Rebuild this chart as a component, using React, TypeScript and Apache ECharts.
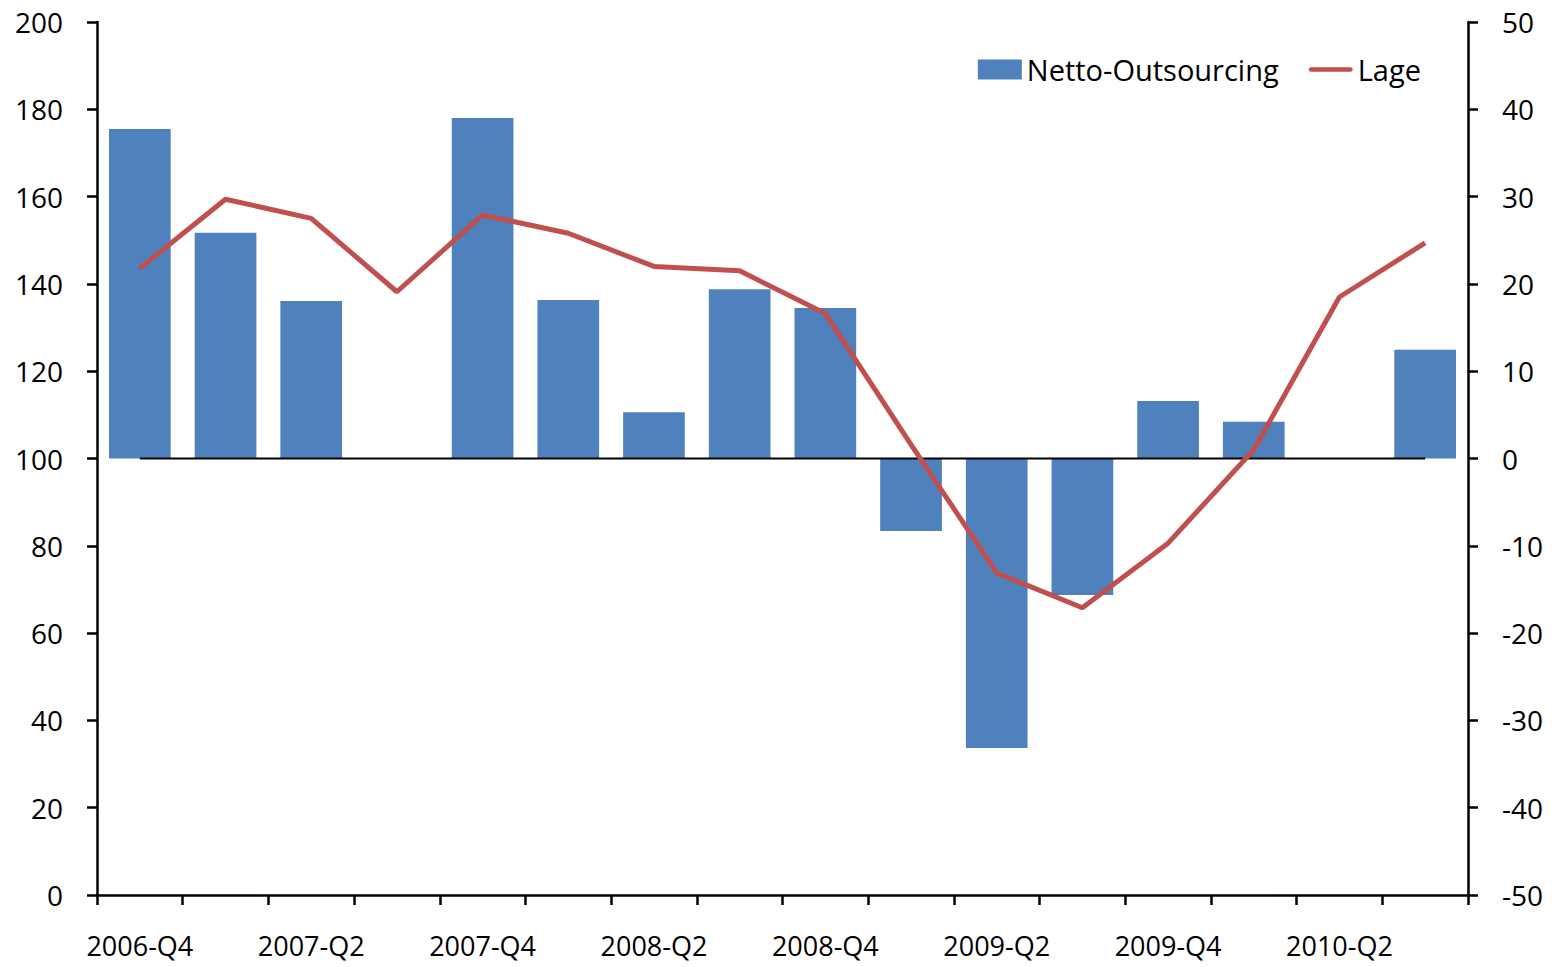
import React, { useEffect, useRef } from "react";
import * as echarts from "echarts";

const categories = [
  "2006-Q4", "2007-Q1", "2007-Q2", "2007-Q3", "2007-Q4", "2008-Q1", "2008-Q2", "2008-Q3",
  "2008-Q4", "2009-Q1", "2009-Q2", "2009-Q3", "2009-Q4", "2010-Q1", "2010-Q2", "2010-Q3",
];
const nettoOutsourcing: (number | null)[] = [
  175.5, 151.7, 136.1, null, 178.0, 136.3, 110.6, 138.8,
  134.5, 83.4, 33.7, 68.7, 113.2, 108.4, null, 124.9,
];
const lage = [21.8, 29.7, 27.5, 19.1, 27.9, 25.8, 22.0, 21.5, 16.6, 1.6, -13.1, -17.1, -9.7, 1.0, 18.5, 24.7];
const baseLevel = 100;

const FONT = "Open Sans";

export default function App() {
  const ref = useRef<HTMLDivElement>(null);
  useEffect(() => {
    if (!ref.current) return;
    const chart = echarts.init(ref.current, null, { renderer: "svg" });
    const axisLine = { show: true, lineStyle: { color: "#000", width: 2.5 } };
    const axisTick = { show: true, inside: false, length: 10, lineStyle: { color: "#000", width: 2.5 } };
    const labelStyle = { color: "#000", fontFamily: FONT, fontSize: 28 };
    chart.setOption({
      animation: false,
      backgroundColor: "#fff",
      grid: { left: 97, right: 94, top: 22, bottom: 72, containLabel: false },
      legend: {
        top: 50,
        right: 136,
        itemWidth: 44,
        itemHeight: 20,
        itemGap: 30,
        symbolKeepAspect: true,
        textStyle: { color: "#000", fontFamily: FONT, fontSize: 29 },
        data: [
          { name: "Netto-Outsourcing", icon: "rect", itemStyle: { color: "#4F81BD" } },
          {
            name: "Lage",
            icon: "path://M2.5,0 L44.5,0 A2.5,2.5 0 0 1 44.5,5 L2.5,5 A2.5,2.5 0 0 1 2.5,0 Z",
            itemStyle: { color: "#C0504D" },
          },
        ],
      },
      xAxis: {
        type: "category",
        data: categories,
        boundaryGap: true,
        axisLine: { ...axisLine, onZero: false },
        axisTick: { ...axisTick, interval: 0, alignWithLabel: false },
        axisLabel: { ...labelStyle, fontSize: 27, lineHeight: 26, interval: 1, margin: 37 },
        splitLine: { show: false },
      },
      yAxis: [
        {
          type: "value",
          min: 0,
          max: 200,
          interval: 20,
          position: "left",
          axisLine,
          axisTick,
          axisLabel: { ...labelStyle, margin: 34 },
          splitLine: { show: false },
        },
        {
          type: "value",
          min: -50,
          max: 50,
          interval: 10,
          position: "right",
          axisLine,
          axisTick,
          axisLabel: { ...labelStyle, margin: 34 },
          splitLine: { show: false },
        },
        {
          type: "value",
          min: -baseLevel,
          max: 200 - baseLevel,
          show: false,
          splitLine: { show: false },
        },
      ],
      series: [
        {
          name: "Netto-Outsourcing",
          type: "bar",
          yAxisIndex: 2,
          barCategoryGap: "28%",
          itemStyle: { color: "#4F81BD" },
          data: nettoOutsourcing.map((v) => (v == null ? "-" : +(v - baseLevel).toFixed(2))),
        },
        {
          name: "baseline",
          type: "line",
          yAxisIndex: 0,
          silent: true,
          symbol: "none",
          lineStyle: { color: "#000", width: 2 },
          data: categories.map(() => baseLevel),
        },
        {
          name: "Lage",
          type: "line",
          yAxisIndex: 1,
          symbol: "none",
          lineStyle: { color: "#C0504D", width: 5 },
          itemStyle: { color: "#C0504D" },
          data: lage,
        },
      ],
    });
    return () => chart.dispose();
  }, []);
  return (
    <div
      ref={ref}
      style={{ position: "fixed", left: 0, top: 0, width: 1562, height: 967, background: "#fff" }}
    />
  );
}
